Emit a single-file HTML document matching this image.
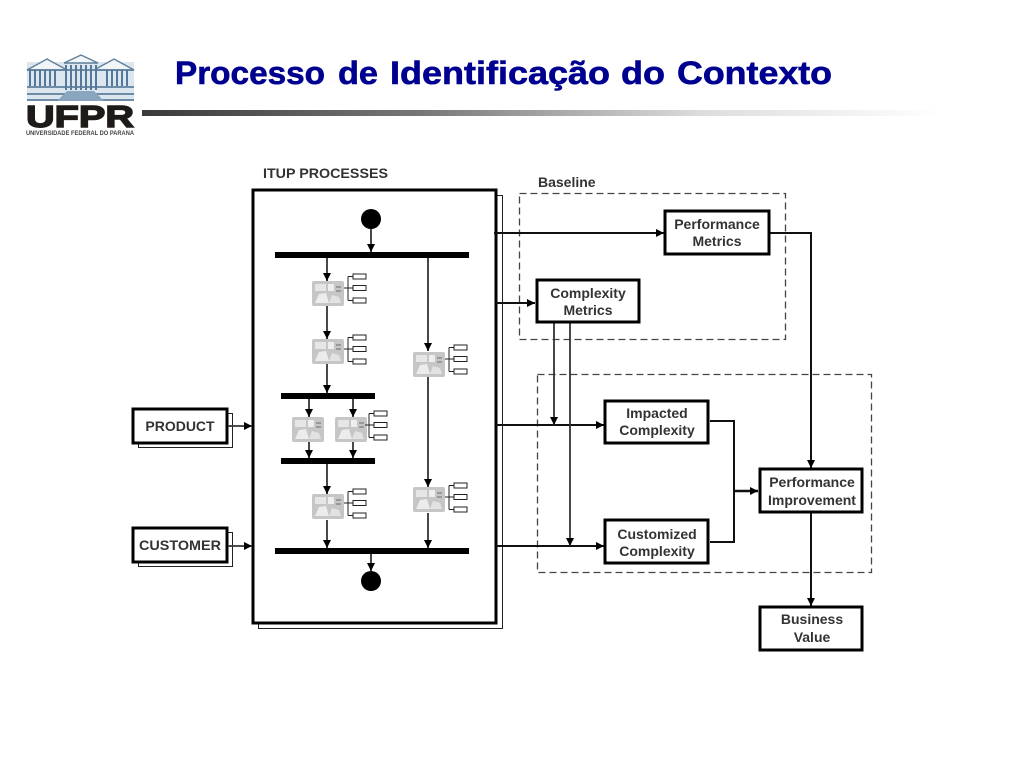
<!DOCTYPE html>
<html><head><meta charset="utf-8"><title>Processo de Identificação do Contexto</title>
<style>html,body{margin:0;padding:0;background:#fff}svg{display:block}
text{font-family:"Liberation Sans",sans-serif}
.t{font-size:32px;font-weight:bold;fill:#000090;stroke:#000090;stroke-width:.6px}
.l{font-weight:bold;font-size:14px;fill:#333;text-anchor:middle}
.b{fill:#fff;stroke:#000;stroke-width:3}
.c{fill:none;stroke:#111;stroke-width:2}
.g{fill:none;stroke:#333;stroke-width:1.8}
.d{fill:none;stroke:#444;stroke-width:1.3;stroke-dasharray:7 4}
.bar{fill:#000}
</style></head><body>
<svg width="1024" height="768" viewBox="0 0 1024 768" xmlns="http://www.w3.org/2000/svg">
<defs>
<linearGradient id="rule" x1="0" x2="1" y1="0" y2="0"><stop offset="0" stop-color="#3a3a3a"/><stop offset=".35" stop-color="#777"/><stop offset=".7" stop-color="#ddd"/><stop offset="1" stop-color="#fff"/></linearGradient>
<marker id="a" markerWidth="10" markerHeight="10" refX="8" refY="4" orient="auto" markerUnits="userSpaceOnUse"><path d="M0 0L8 4L0 8Z" fill="#000"/></marker>
<g id="ic">
<rect x="0" y="0" width="32" height="25" rx="2" fill="#c6c6c6"/>
<rect x="3" y="3" width="11" height="7" fill="#e6e6e6"/><rect x="16" y="3" width="6" height="7" fill="#eee"/>
<path d="M3 22L7 13L14 12L17 22Z" fill="#ececec"/><path d="M17 22L20 14L27 16L29 22Z" fill="#e2e2e2"/>
<rect x="24" y="5" width="5" height="2" fill="#999"/><rect x="24" y="9" width="5" height="2" fill="#999"/>
</g>
<g id="sub">
<path d="M0 13H4M4 1.500V25.500M4 1.500H9M4 13H9M4 25.500H9" fill="none" stroke="#222" stroke-width="1"/>
<rect x="9" y="-1" width="13" height="5" fill="#fff" stroke="#222" stroke-width="1"/>
<rect x="9" y="10.500" width="13" height="5" fill="#fff" stroke="#222" stroke-width="1"/>
<rect x="9" y="23" width="13" height="5" fill="#fff" stroke="#222" stroke-width="1"/>
</g>
</defs>
<!-- header -->
<text x="175" y="84" class="t" textLength="150" lengthAdjust="spacingAndGlyphs">Processo</text>
<text x="338" y="84" class="t" textLength="40" lengthAdjust="spacingAndGlyphs">de</text>
<text x="390" y="84" class="t" textLength="220" lengthAdjust="spacingAndGlyphs">Identificação</text>
<text x="621" y="84" class="t" textLength="44" lengthAdjust="spacingAndGlyphs">do</text>
<text x="677" y="84" class="t" textLength="155" lengthAdjust="spacingAndGlyphs">Contexto</text>
<rect x="142" y="110" width="800" height="6" fill="url(#rule)"/>
<!-- logo -->
<g>
<rect x="27" y="62" width="107" height="39" fill="#dce6ef"/>
<path d="M27 70L47 59L67 70ZM64 63L81 55L98 63ZM94 70L114 59L134 70Z" fill="#f2f5f8" stroke="#5f7f9c" stroke-width="1.400"/>
<path d="M27 70H134M27 87H134M27 94H134M27 100H134" stroke="#5f7f9c" stroke-width="1.800"/>
<path d="M30 70V86M35 70V86M40 70V86M45 70V86M50 70V86M55 70V86M66 65V90M71 65V90M76 65V90M81 65V90M86 65V90M91 65V90M96 65V90M107 70V86M112 70V86M117 70V86M122 70V86M127 70V86" stroke="#55789a" stroke-width="2"/>
<path d="M57 101L67 91H94L104 101Z" fill="#8aa6bf"/>
<text x="26" y="127" font-size="31" font-weight="bold" fill="#1e1a18" stroke="#1e1a18" stroke-width="1.400" textLength="108" lengthAdjust="spacingAndGlyphs">UFPR</text>
<text x="26" y="135" font-size="6.500" font-weight="bold" fill="#444" textLength="108" lengthAdjust="spacingAndGlyphs">UNIVERSIDADE FEDERAL DO PARANA</text>
</g>
<!-- main frame -->
<text x="263" y="178" font-size="14" font-weight="bold" fill="#333" textLength="125" lengthAdjust="spacingAndGlyphs">ITUP PROCESSES</text>
<text x="538" y="187" font-size="14" font-weight="bold" fill="#333">Baseline</text>
<rect x="258.500" y="195.500" width="244" height="433" fill="#fff" stroke="#222" stroke-width="1"/>
<rect x="253" y="190" width="243" height="433" fill="#fff" stroke="#000" stroke-width="3"/>
<!-- dashed -->
<rect x="519.500" y="193.500" width="266" height="146" class="d"/>
<rect x="537.500" y="374.500" width="334" height="198" class="d"/>
<!-- bars -->
<rect class="bar" x="275" y="252" width="194" height="6"/>
<rect class="bar" x="281" y="393" width="94" height="6"/>
<rect class="bar" x="281" y="458" width="94" height="6"/>
<rect class="bar" x="275" y="548" width="194" height="6"/>
<circle cx="371" cy="219" r="10" fill="#000"/>
<circle cx="371" cy="581" r="10" fill="#000"/>
<!-- internal connectors -->
<g>
<path d="M371 229V252" class="g" marker-end="url(#a)"/>
<path d="M327 258V281" class="g" marker-end="url(#a)"/>
<path d="M327 306V339" class="g" marker-end="url(#a)"/>
<path d="M327 364V393" class="g" marker-end="url(#a)"/>
<path d="M428 258V351" class="g" marker-end="url(#a)"/>
<path d="M428 377V487" class="g" marker-end="url(#a)"/>
<path d="M428 513V548" class="g" marker-end="url(#a)"/>
<path d="M309 399V417" class="g" marker-end="url(#a)"/>
<path d="M353 399V417" class="g" marker-end="url(#a)"/>
<path d="M309 442V458" class="g" marker-end="url(#a)"/>
<path d="M353 442V458" class="g" marker-end="url(#a)"/>
<path d="M327 464V494" class="g" marker-end="url(#a)"/>
<path d="M327 520V548" class="g" marker-end="url(#a)"/>
<path d="M371 554V571" class="g" marker-end="url(#a)"/>
</g>
<!-- icons -->
<use href="#ic" x="312" y="281"/><use href="#sub" x="344" y="275"/>
<use href="#ic" x="312" y="339"/><use href="#sub" x="344" y="336"/>
<use href="#ic" x="413" y="352"/><use href="#sub" x="445" y="346"/>
<use href="#ic" x="292" y="417"/>
<use href="#ic" x="335" y="417"/><use href="#sub" x="365" y="412"/>
<use href="#ic" x="312" y="494"/><use href="#sub" x="344" y="490"/>
<use href="#ic" x="413" y="487"/><use href="#sub" x="445" y="484"/>
<!-- left inputs -->
<rect x="138.500" y="413.500" width="94" height="34" fill="#fff" stroke="#222" stroke-width="1"/>
<rect x="133" y="409" width="94" height="34" class="b"/>
<text x="180" y="431" class="l">PRODUCT</text>
<rect x="138.500" y="532.500" width="94" height="34" fill="#fff" stroke="#222" stroke-width="1"/>
<rect x="133" y="528" width="94" height="34" class="b"/>
<text x="180" y="550" class="l" textLength="82" lengthAdjust="spacingAndGlyphs">CUSTOMER</text>
<path d="M228 426H252" class="g" marker-end="url(#a)"/>
<path d="M228 546H252" class="g" marker-end="url(#a)"/>
<!-- right connectors -->
<path d="M494 233H664" class="c" marker-end="url(#a)"/>
<path d="M496 303H535" class="c" marker-end="url(#a)"/>
<path d="M496 425H604" class="c" marker-end="url(#a)"/>
<path d="M496 546H604" class="c" marker-end="url(#a)"/>
<path d="M554 323V425" class="g" marker-end="url(#a)"/>
<path d="M570 323V546" class="g" marker-end="url(#a)"/>
<path d="M770 233H811V468" class="c" marker-end="url(#a)"/>
<path d="M710 421H734V542H710" class="c"/>
<path d="M734 491H758" stroke="#111" stroke-width="2.500" fill="none" marker-end="url(#a)"/>
<path d="M811 512V606" class="c" marker-end="url(#a)"/>
<!-- boxes -->
<rect x="665" y="211" width="104" height="43" class="b"/>
<text x="717" y="229" class="l">Performance</text><text x="717" y="246" class="l">Metrics</text>
<rect x="537" y="280" width="102" height="42" class="b"/>
<text x="588" y="298" class="l">Complexity</text><text x="588" y="315" class="l">Metrics</text>
<rect x="605" y="401" width="103" height="42" class="b"/>
<text x="657" y="418" class="l">Impacted</text><text x="657" y="435" class="l">Complexity</text>
<rect x="605" y="520" width="103" height="43" class="b"/>
<text x="657" y="539" class="l">Customized</text><text x="657" y="556" class="l">Complexity</text>
<rect x="760" y="469" width="102" height="43" class="b"/>
<text x="812" y="487" class="l">Performance</text><text x="812" y="505" class="l">Improvement</text>
<rect x="760" y="607" width="102" height="43" class="b"/>
<text x="812" y="624" class="l">Business</text><text x="812" y="642" class="l">Value</text>
</svg>
</body></html>
